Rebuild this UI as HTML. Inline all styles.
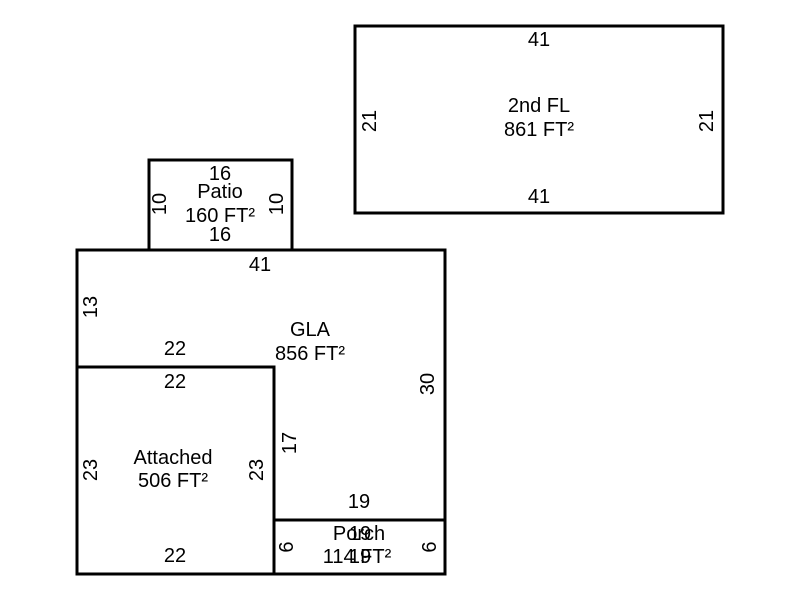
<!DOCTYPE html>
<html><head><meta charset="utf-8"><style>
html,body{margin:0;padding:0;background:#fff;width:800px;height:600px;overflow:hidden}
text{font-family:"Liberation Sans",Arial,sans-serif;font-size:20px;fill:#000;text-anchor:middle;dominant-baseline:central}
</style></head><body>
<svg width="800" height="600" viewBox="0 0 800 600" xmlns="http://www.w3.org/2000/svg">
<g fill="none" stroke="#000" stroke-width="3">
<rect x="355" y="26" width="368" height="187"/>
<rect x="149" y="160" width="143" height="90"/>
<rect x="77" y="250" width="368" height="324"/>
<rect x="77" y="367" width="197" height="207"/>
<rect x="274" y="520" width="171" height="54"/>
</g>
<text x="539" y="40">41</text>
<text x="539" y="106">2nd FL</text>
<text x="539" y="130">861 FT²</text>
<text x="539" y="197">41</text>
<text transform="translate(370,121) rotate(-90)">21</text>
<text transform="translate(707,121) rotate(-90)">21</text>

<text x="220" y="174">16</text>
<text x="220" y="192">Patio</text>
<text x="220" y="216">160 FT²</text>
<text x="220" y="235">16</text>
<text transform="translate(160,204) rotate(-90)">10</text>
<text transform="translate(277,204) rotate(-90)">10</text>

<text x="260" y="265">41</text>
<text transform="translate(91,307) rotate(-90)">13</text>
<text x="310" y="330">GLA</text>
<text x="310" y="354">856 FT²</text>
<text x="175" y="349">22</text>
<text transform="translate(428,384) rotate(-90)">30</text>
<text transform="translate(290,443) rotate(-90)">17</text>
<text x="359" y="502">19</text>

<text x="175" y="382">22</text>
<text x="173" y="458">Attached</text>
<text x="173" y="481">506 FT²</text>
<text transform="translate(91,470) rotate(-90)">23</text>
<text transform="translate(257,470) rotate(-90)">23</text>
<text x="175" y="556">22</text>

<text x="359" y="534">Porch</text>
<text x="357" y="557">114 FT²</text>
<text x="360" y="534">19</text>
<text x="360" y="557">19</text>
<text transform="translate(287,547) rotate(-90)">6</text>
<text transform="translate(430,547) rotate(-90)">6</text>
</svg>
</body></html>
